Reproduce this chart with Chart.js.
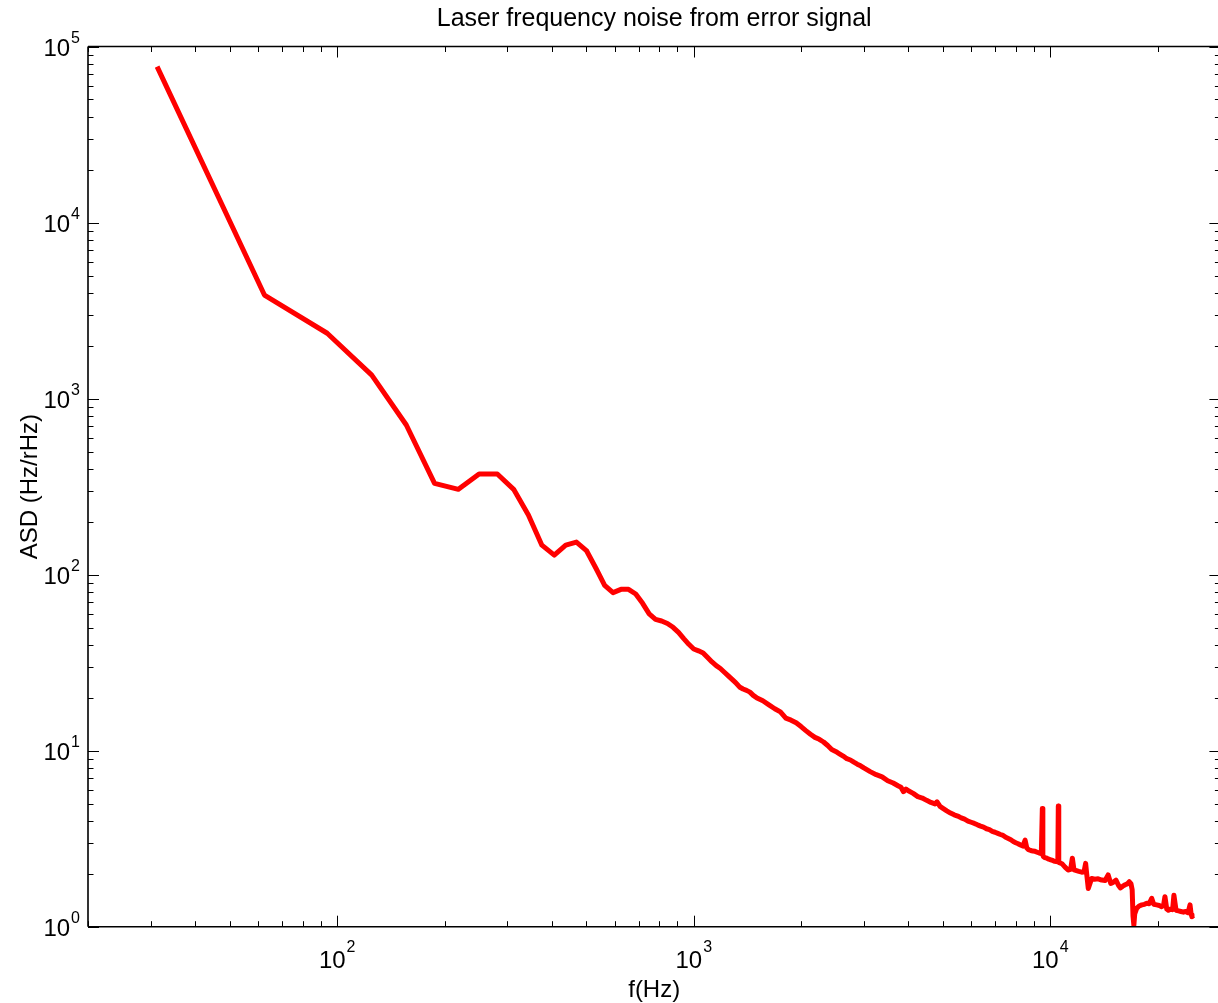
<!DOCTYPE html>
<html>
<head>
<meta charset="utf-8">
<script src="https://cdn.jsdelivr.net/npm/chart.js@4.4.1/dist/chart.umd.min.js"></script>
<style>
html,body{margin:0;padding:0;background:#fff;overflow:hidden;}
#wrap{position:relative;width:1218px;height:1003px;overflow:hidden;}
canvas{display:block;}
</style>
</head>
<body>
<div id="wrap"><canvas id="c" width="1221" height="1003" style="width:1221px;height:1003px"></canvas></div>
<script>
// ---- chart text ----
const chartTitle = 'Laser frequency noise from error signal';
const xAxisLabel = 'f(Hz)';
const yAxisLabel = 'ASD (Hz/rHz)';

// ---- axis ranges and tick labels (powers of ten) ----
const xRange = [20, 30000];
const yRange = [1, 100000];
const xTickExponents = [2, 3, 4];
const yTickExponents = [0, 1, 2, 3, 4, 5];

// ---- data: frequency (Hz) and amplitude spectral density (Hz/rHz) ----
const freqHz = [
  31.25, 62.5, 93.75, 125, 156.25, 187.5, 218.75, 250, 281.25, 312.5,
  343.75, 375, 406.25, 437.5, 468.75, 500, 531.25, 562.5, 593.75, 625,
  656.25, 687.5, 718.75, 750, 781.25, 812.5, 843.75, 875, 906.25, 937.5,
  968.75, 1000, 1031.25, 1062.5, 1093.75, 1125, 1156.25, 1187.5, 1218.75, 1250,
  1281.25, 1312.5, 1343.75, 1375, 1406.25, 1437.5, 1468.75, 1500, 1562.5, 1625,
  1687.5, 1750, 1812.5, 1875, 1937.5, 2000, 2062.5, 2125, 2187.5, 2250,
  2312.5, 2375, 2437.5, 2500, 2562.5, 2625, 2687.5, 2750, 2812.5, 2875,
  2937.5, 3000, 3125, 3250, 3375, 3500, 3625, 3750, 3812.5, 3875,
  3937.5, 4000, 4125, 4250, 4375, 4500, 4625, 4750, 4812.5, 4906.25,
  5000, 5125, 5250, 5375, 5500, 5625, 5750, 5875, 6000, 6125,
  6250, 6375, 6500, 6625, 6750, 6875, 7000, 7125, 7250, 7375,
  7500, 7625, 7750, 7875, 8000, 8125, 8250, 8375, 8500, 8593.75,
  8687.5, 8812.5, 8937.5, 9062.5, 9187.5, 9312.5, 9437.5, 9500, 9531.25, 9562.5,
  9656.25, 9781.25, 9906.25, 10031.25, 10156.25, 10281.25, 10500, 10531.25, 10562.5, 10781.25,
  11000, 11218.75, 11406.25, 11531.25, 11656.25, 11843.75, 12031.25, 12250, 12437.5, 12562.5,
  12656.25, 12781.25, 13062.5, 13312.5, 13625, 13937.5, 14250, 14531.25, 14781.25, 15031.25,
  15281.25, 15531.25, 15718.75, 15968.75, 16218.75, 16437.5, 16656.25, 16843.75, 16968.75, 17062.5,
  17156.25, 17250, 17468.75, 17750, 18062.5, 18375, 18656.25, 18937.5, 19250, 19500,
  19875, 20218.75, 20531.25, 20781.25, 20968.75, 21218.75, 21437.5, 21750, 22031.25, 22218.75,
  22531.25, 22906.25, 23250, 23625, 23968.75, 24343.75, 24656.25, 24843.75, 24968.75, 25187.5
];
const asdHzPerRtHz = [
  76800, 3875, 2350, 1360, 708, 330, 305, 373, 373, 305,
  218, 147, 129, 147, 153, 137, 109, 87, 79, 82.5,
  82.5, 77.6, 68.7, 59.8, 55.7, 54.5, 52.8, 50.2, 47, 43.3,
  40.2, 37.8, 36.9, 35.9, 33.8, 31.9, 30.4, 29.3, 27.9, 26.6,
  25.4, 24.3, 23.0, 22.4, 22.0, 21.5, 20.6, 20.0, 19.2, 18.2,
  17.3, 16.6, 15.3, 14.9, 14.4, 13.7, 13.0, 12.4, 11.9, 11.6,
  11.2, 10.7, 10.15, 9.9, 9.6, 9.32, 9.0, 8.85, 8.6, 8.38,
  8.2, 7.98, 7.6, 7.3, 7.1, 6.75, 6.55, 6.3, 6.2, 5.85,
  6.05, 5.92, 5.72, 5.48, 5.38, 5.22, 5.08, 4.98, 5.12, 4.82,
  4.7, 4.55, 4.42, 4.32, 4.25, 4.15, 4.08, 3.98, 3.92, 3.86,
  3.79, 3.73, 3.68, 3.6, 3.56, 3.48, 3.44, 3.39, 3.34, 3.3,
  3.22, 3.17, 3.12, 3.05, 3.0, 2.96, 2.91, 2.87, 3.1, 2.8,
  2.74, 2.71, 2.69, 2.68, 2.65, 2.62, 2.6, 4.7, 2.56, 2.5,
  2.47, 2.45, 2.42, 2.4, 2.38, 2.35, 2.34, 4.85, 2.32, 2.28,
  2.18, 2.1, 2.12, 2.45, 2.1, 2.08, 2.06, 2.04, 2.05, 2.29,
  1.98, 1.65, 1.88, 1.86, 1.87, 1.84, 1.83, 1.97, 1.76, 1.79,
  1.84, 1.72, 1.66, 1.7, 1.73, 1.75, 1.8, 1.75, 1.62, 1.15,
  1.02, 1.18, 1.27, 1.31, 1.33, 1.34, 1.36, 1.35, 1.45, 1.34,
  1.33, 1.32, 1.3, 1.32, 1.48, 1.26, 1.24, 1.26, 1.25, 1.51,
  1.24, 1.23, 1.22, 1.21, 1.22, 1.2, 1.33, 1.17, 1.14, 1.16
];

const FONT = '"Liberation Sans", Arial, Helvetica, sans-serif';

// minor/major log tick values from the decade exponents
function logTicks(min, max) {
  const out = [];
  for (let e = Math.floor(Math.log10(min)); e <= Math.ceil(Math.log10(max)); e++) {
    for (let m = 1; m <= 9; m++) {
      const v = m * Math.pow(10, e);
      if (v >= min * 0.9999 && v <= max * 1.0001) out.push({ v, major: m === 1 });
    }
  }
  return out;
}

const matlabAxes = {
  id: 'matlabAxes',
  afterDraw(chart) {
    const { ctx, chartArea: a, scales } = chart;
    const xs = scales.x, ys = scales.y;
    ctx.save();
    // box
    ctx.strokeStyle = '#000';
    ctx.lineWidth = 1.6;
    ctx.beginPath();
    ctx.moveTo(a.left, a.top); ctx.lineTo(a.right, a.top);
    ctx.moveTo(a.left, a.bottom); ctx.lineTo(a.right, a.bottom);
    ctx.moveTo(a.left, a.top); ctx.lineTo(a.left, a.bottom);
    ctx.moveTo(a.right, a.top); ctx.lineTo(a.right, a.bottom);
    ctx.stroke();
    // ticks (inward, all four sides)
    ctx.lineWidth = 1;
    const MAJ = 11, MIN = 5.5;
    ctx.beginPath();
    logTicks(xRange[0], xRange[1]).forEach(t => {
      const px = Math.round(xs.getPixelForValue(t.v)) + 0.5;
      const L = t.major ? MAJ : MIN;
      ctx.moveTo(px, a.bottom); ctx.lineTo(px, a.bottom - L);
      ctx.moveTo(px, a.top); ctx.lineTo(px, a.top + L);
    });
    logTicks(yRange[0], yRange[1]).forEach(t => {
      const py = Math.round(ys.getPixelForValue(t.v)) + 0.5;
      const L = t.major ? MAJ : MIN;
      ctx.moveTo(a.left, py); ctx.lineTo(a.left + L, py);
      ctx.moveTo(a.right, py); ctx.lineTo(a.right - L, py);
    });
    ctx.stroke();
    // tick labels 10^n
    ctx.fillStyle = '#000';
    const baseFont = '24px ' + FONT, expFont = '16px ' + FONT;
    ctx.textBaseline = 'alphabetic';
    xTickExponents.forEach(e => {
      const px = xs.getPixelForValue(Math.pow(10, e));
      ctx.font = baseFont; const w1 = ctx.measureText('10').width;
      ctx.font = expFont; const w2 = ctx.measureText(String(e)).width;
      const start = px - (w1 + w2 + 1) / 2;
      ctx.font = baseFont; ctx.textAlign = 'left';
      ctx.fillText('10', start, a.bottom + 41);
      ctx.font = expFont;
      ctx.fillText(String(e), start + w1 + 1, a.bottom + 25);
    });
    yTickExponents.forEach(e => {
      const py = ys.getPixelForValue(Math.pow(10, e));
      const right = a.left - 8;
      ctx.font = expFont; const w2 = ctx.measureText(String(e)).width;
      ctx.textAlign = 'right';
      ctx.fillText(String(e), right, py - 4);
      ctx.font = baseFont;
      ctx.fillText('10', right - w2 - 1, py + 9);
    });
    ctx.restore();
  }
};

const chart = new Chart(document.getElementById('c'), {
  type: 'line',
  data: {
    datasets: [{
      label: 'ASD',
      data: freqHz.map((f, i) => ({ x: f, y: asdHzPerRtHz[i] })),
      borderColor: 'rgb(255,0,0)',
      backgroundColor: 'rgb(255,0,0)',
      borderWidth: 5,
      borderJoinStyle: 'round',
      pointRadius: 0,
      tension: 0,
      fill: false
    }]
  },
  options: {
    responsive: false,
    animation: false,
    devicePixelRatio: 1,
    layout: { padding: { left: 0, right: 0.6, top: 0, bottom: 0 } },
    plugins: {
      legend: { display: false },
      tooltip: { enabled: false },
      title: {
        display: true,
        fullSize: false,
        text: chartTitle,
        color: '#000',
        font: { family: FONT, size: 25, weight: 'normal', lineHeight: 1.2 },
        padding: { top: 4, bottom: 12.5 }
      }
    },
    scales: {
      x: {
        type: 'logarithmic',
        position: 'bottom',
        min: xRange[0],
        max: xRange[1],
        grid: { display: false },
        border: { display: false },
        ticks: { display: false },
        title: {
          display: true,
          text: xAxisLabel,
          color: '#000',
          font: { family: FONT, size: 24, lineHeight: 1 },
          padding: { top: 0, bottom: 1 }
        },
        afterFit(scale) { scale.height = 76.3; }
      },
      y: {
        type: 'logarithmic',
        position: 'left',
        min: yRange[0],
        max: yRange[1],
        grid: { display: false },
        border: { display: false },
        ticks: { display: false },
        title: {
          display: true,
          text: yAxisLabel,
          color: '#000',
          font: { family: FONT, size: 24, lineHeight: 1 },
          padding: { top: 18, bottom: 0 }
        },
        afterFit(scale) { scale.width = 88; }
      }
    }
  },
  plugins: [matlabAxes]
});
</script>
</body>
</html>
